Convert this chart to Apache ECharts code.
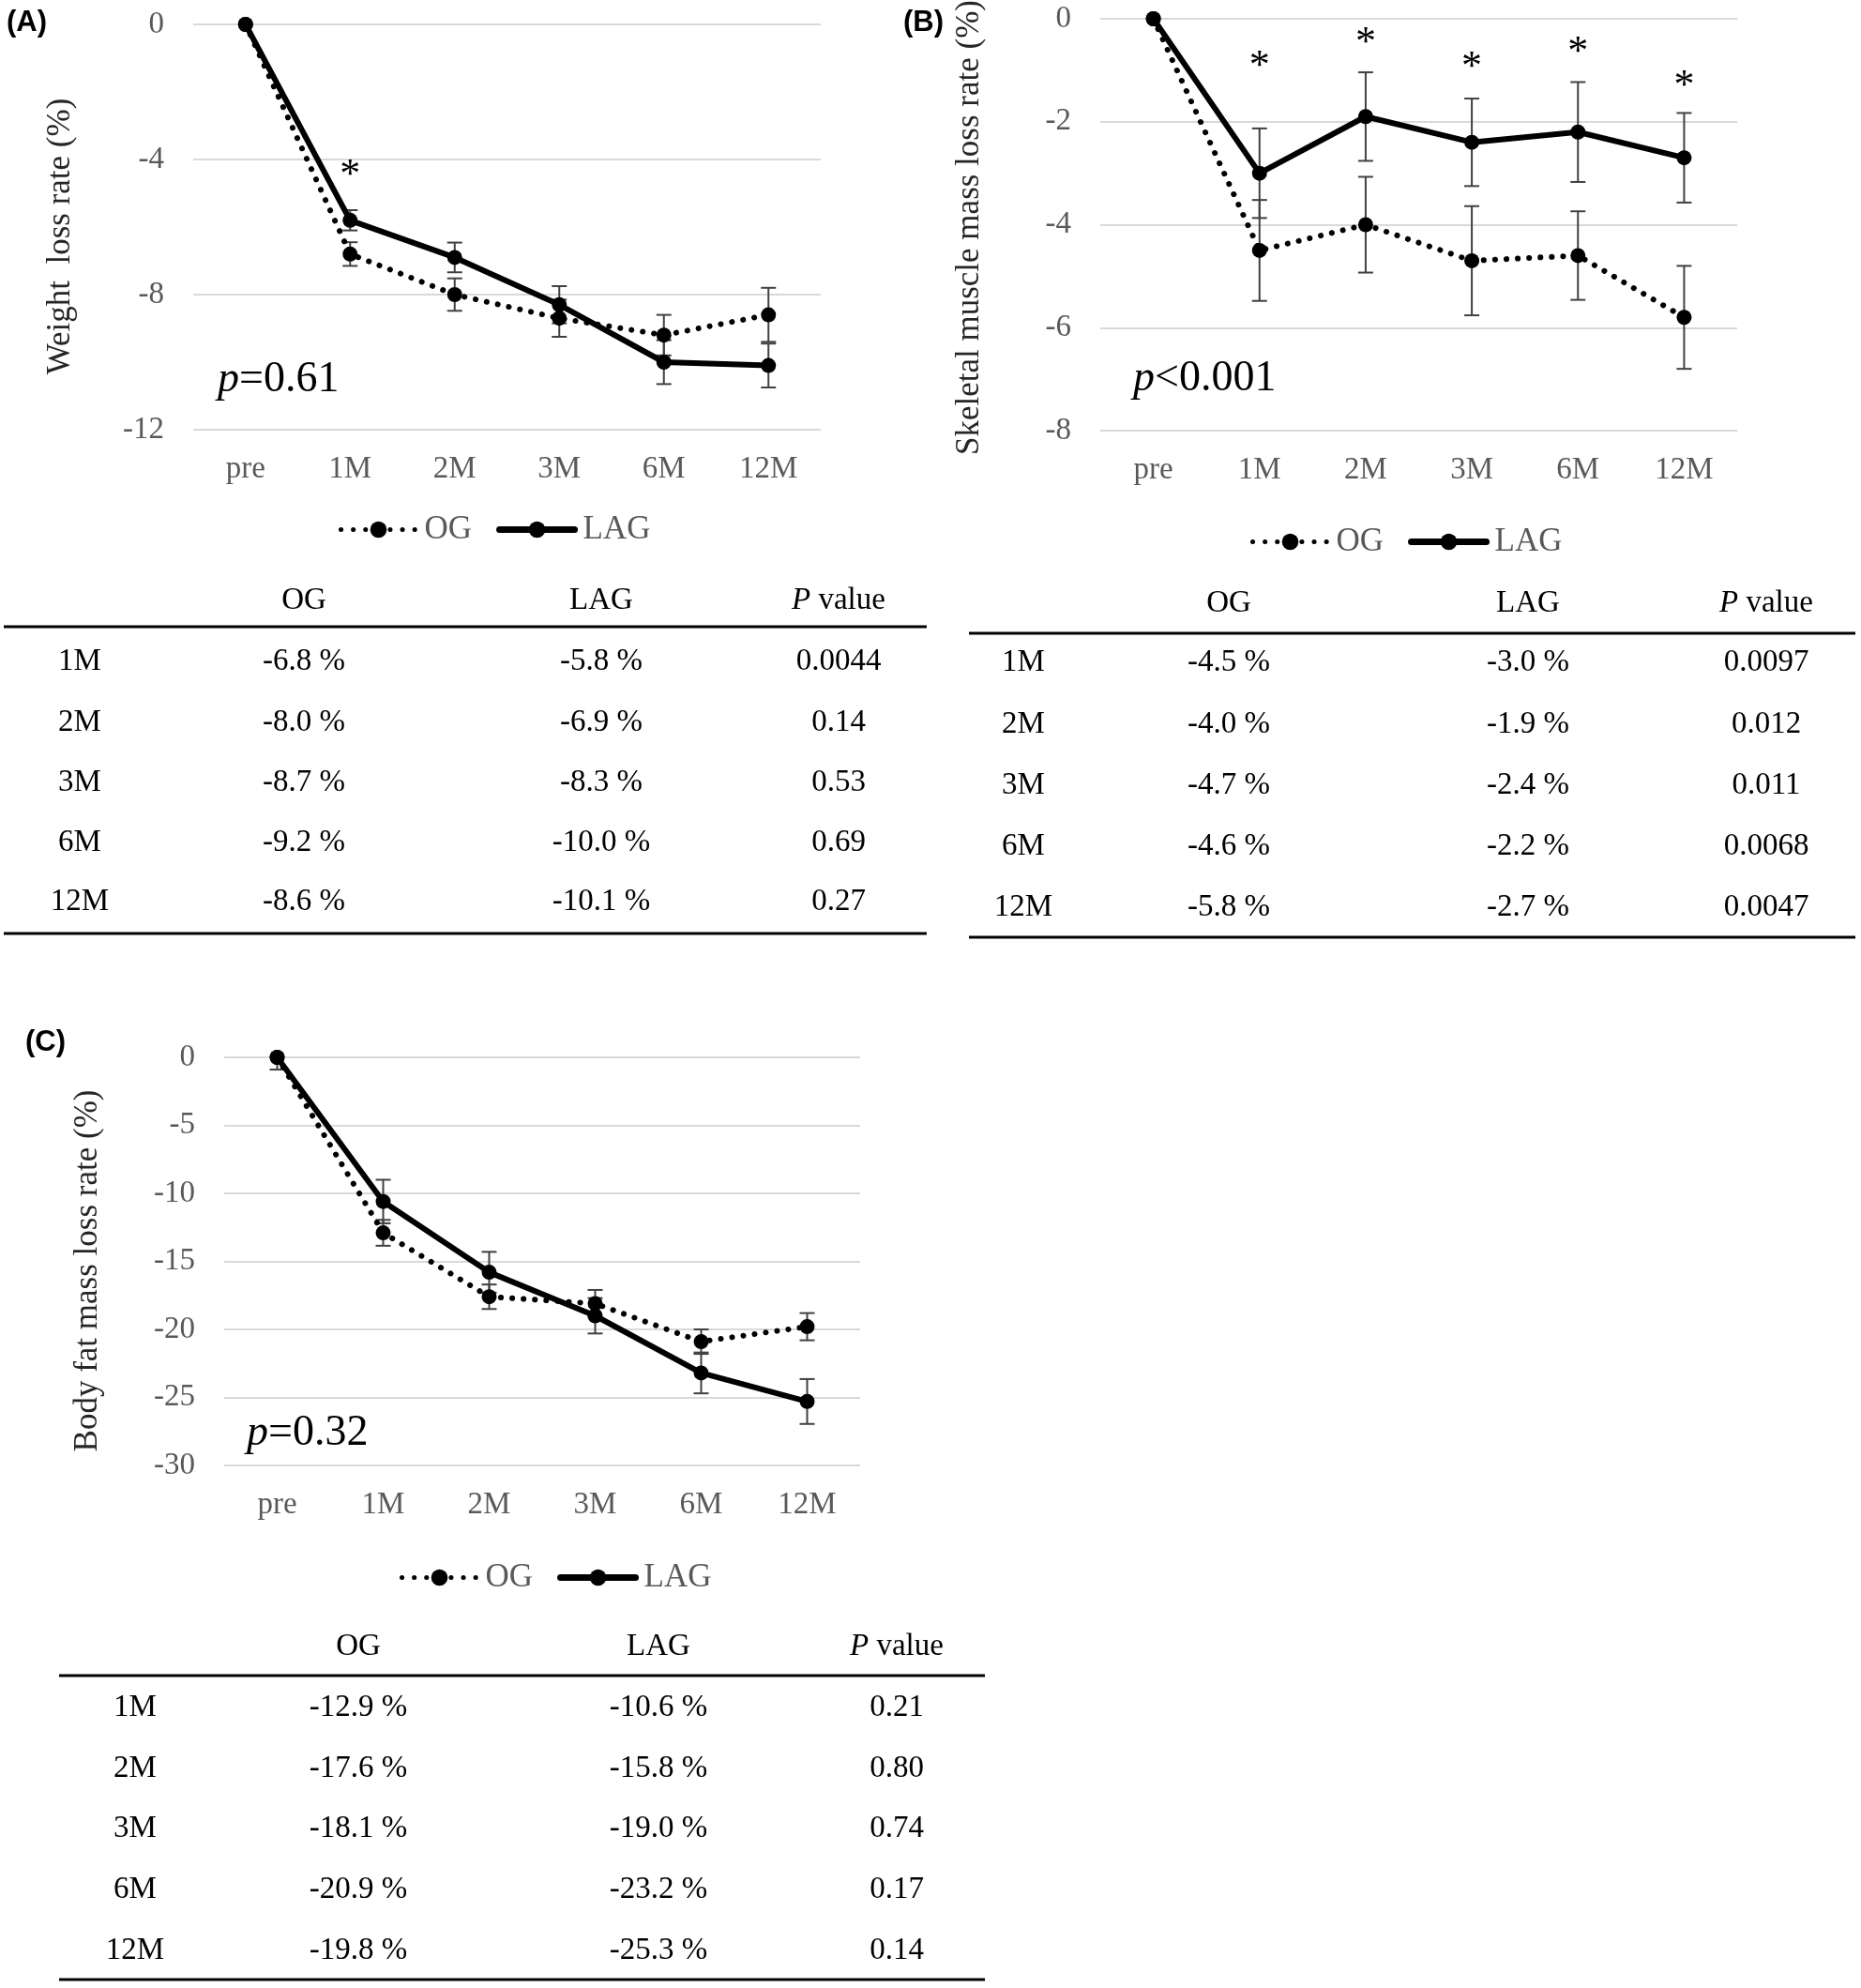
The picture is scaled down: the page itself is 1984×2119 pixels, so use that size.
<!DOCTYPE html>
<html style="height: 100%">
<head>
<meta charset="utf-8">
<script src="https://cdn.jsdelivr.net/npm/echarts@6/dist/echarts.min.js"></script>
</head>
<body style="margin: 0; background: #fff">
<div id="container" style="width: 1984px; height: 2119px"></div>
<script type="text/javascript">
// time points
var cats = ['pre', '1M', '2M', '3M', '6M', '12M'];

// (A) weight loss rate
var ogA = [0, -6.8, -8.0, -8.7, -9.2, -8.6];
var lagA = [0, -5.8, -6.9, -8.3, -10.0, -10.1];
var ogErrA = [0, 0.35, 0.48, 0.55, 0.6, 0.8];
var lagErrA = [0, 0.3, 0.44, 0.55, 0.65, 0.65];
var starA = [null, -4.21, null, null, null, null];
var pValA = ['0.0044', '0.14', '0.53', '0.69', '0.27'];

// (B) skeletal muscle mass loss rate
var ogB = [0, -4.5, -4.0, -4.7, -4.6, -5.8];
var lagB = [0, -3.0, -1.9, -2.4, -2.2, -2.7];
var ogErrB = [0, 0.98, 0.93, 1.06, 0.86, 1.0];
var lagErrB = [0, 0.87, 0.86, 0.85, 0.97, 0.87];
var starB = [null, -0.76, -0.30, -0.78, -0.48, -1.13];
var pValB = ['0.0097', '0.012', '0.011', '0.0068', '0.0047'];

// (C) body fat mass loss rate
var ogC = [0, -12.9, -17.6, -18.1, -20.9, -19.8];
var lagC = [0, -10.6, -15.8, -19.0, -23.2, -25.3];
var ogErrC = [0.9, 0.95, 0.9, 1.0, 0.9, 1.0];
var lagErrC = [0, 1.6, 1.5, 1.3, 1.5, 1.65];
var starC = [null, null, null, null, null, null];
var pValC = ['0.21', '0.80', '0.74', '0.17', '0.14'];

var SERIF = 'Liberation Serif';
var GRAY = '#595959';

var panels = [
    {tag: '(A)', tagX: 7, tagY: 24, yName: 'Weight  loss rate (%)', min: -12, interval: 4,
     grid: {left: 206, top: 26, width: 669, height: 432}, nameGap: 124, nameShift: 20,
     og: ogA, lag: lagA, ogErr: ogErrA, lagErr: lagErrA, star: starA, p: ['=', '0.61'], pX: 232, pY: 405,
     legend: {left: 356, top: 542},
     table: {headY: 640, lineX1: 4, lineX2: 988, topY: 668, botY: 995, rowY: [705, 770, 834, 898, 961],
             cols: [85, 324, 641, 894]}, pv: pValA},
    {tag: '(B)', tagX: 963, tagY: 24, yName: 'Skeletal muscle mass loss rate (%)', min: -8, interval: 2,
     grid: {left: 1173, top: 20, width: 679, height: 439}, nameGap: 122, nameShift: 6,
     og: ogB, lag: lagB, ogErr: ogErrB, lagErr: lagErrB, star: starB, p: ['<', '0.001'], pX: 1208, pY: 404,
     legend: {left: 1328, top: 555},
     table: {headY: 643, lineX1: 1033, lineX2: 1978, topY: 675, botY: 999, rowY: [706, 772, 837, 902, 967],
             cols: [1091, 1310, 1629, 1883]}, pv: pValB},
    {tag: '(C)', tagX: 27, tagY: 1111, yName: 'Body fat mass loss rate (%)', min: -30, interval: 5,
     grid: {left: 239, top: 1127, width: 678, height: 435}, nameGap: 128, nameShift: 20,
     og: ogC, lag: lagC, ogErr: ogErrC, lagErr: lagErrC, star: starC, p: ['=', '0.32'], pX: 263, pY: 1528,
     legend: {left: 421, top: 1659},
     table: {headY: 1755, lineX1: 63, lineX2: 1050, topY: 1786, botY: 2110, rowY: [1820, 1885, 1949, 2014, 2079],
             cols: [144, 382, 702, 956]}, pv: pValC}
];

function errorBars(params, api) {
    var e = api.value(2);
    if (!e) return;
    var x = api.value(0), m = api.value(1);
    var top = api.coord([x, m + e]);
    var bot = api.coord([x, m - e]);
    var w = 8;
    var st = {stroke: '#404040', lineWidth: 2};
    return {
        type: 'group',
        children: [
            {type: 'line', shape: {x1: top[0], y1: top[1], x2: bot[0], y2: bot[1]}, style: st},
            {type: 'line', shape: {x1: top[0] - w, y1: top[1], x2: top[0] + w, y2: top[1]}, style: st},
            {type: 'line', shape: {x1: bot[0] - w, y1: bot[1], x2: bot[0] + w, y2: bot[1]}, style: st}
        ]
    };
}

function stars(params, api) {
    var p = api.coord([api.value(0), api.value(1)]);
    return {
        type: 'text', x: p[0], y: p[1] + 10,
        style: {text: '*', fontSize: 44, fontFamily: SERIF, fill: '#000', align: 'center', verticalAlign: 'middle'}
    };
}

var ogLine = {color: '#000', width: 6, type: [0.1, 12], cap: 'round'};
var lagLine = {color: '#000', width: 6, cap: 'round'};

var grids = [], xAxes = [], yAxes = [], series = [], legends = [], graphics = [];

panels.forEach(function (pn, k) {
    var g = pn.grid;
    grids.push({left: g.left, top: g.top, width: g.width, height: g.height, outerBoundsMode: 'none'});
    xAxes.push({
        type: 'category', gridIndex: k, data: cats, boundaryGap: true,
        axisLine: {show: false}, axisTick: {show: false},
        axisLabel: {color: GRAY, fontSize: 33, fontFamily: SERIF, margin: 26}
    });
    yAxes.push({
        type: 'value', gridIndex: k, min: pn.min, max: 0, interval: pn.interval,
        name: pn.yName, nameLocation: 'middle', nameGap: pn.nameGap,
        nameTextStyle: {color: '#262626', fontSize: 35, fontFamily: SERIF, padding: [0, pn.nameShift, 0, 0]},
        axisLine: {show: false}, axisTick: {show: false},
        axisLabel: {color: GRAY, fontSize: 33, fontFamily: SERIF, margin: 31},
        splitLine: {lineStyle: {color: '#d9d9d9', width: 2}}
    });
    series.push({
        type: 'custom', name: 'errOG' + k, xAxisIndex: k, yAxisIndex: k, renderItem: errorBars, z: 1,
        encode: {x: 0, y: 1}, clip: true,
        data: pn.og.map(function (v, i) { return [i, v, pn.ogErr[i]]; })
    });
    series.push({
        type: 'custom', name: 'errLAG' + k, xAxisIndex: k, yAxisIndex: k, renderItem: errorBars, z: 1,
        encode: {x: 0, y: 1}, clip: true,
        data: pn.lag.map(function (v, i) { return [i, v, pn.lagErr[i]]; })
    });
    series.push({
        type: 'line', name: 'OG', xAxisIndex: k, yAxisIndex: k, data: pn.og, z: 3,
        symbol: 'circle', symbolSize: 16, itemStyle: {color: '#000'},
        lineStyle: ogLine
    });
    series.push({
        type: 'line', name: 'LAG', xAxisIndex: k, yAxisIndex: k, data: pn.lag, z: 4,
        symbol: 'circle', symbolSize: 16, itemStyle: {color: '#000'},
        lineStyle: lagLine
    });
    var sd = [];
    pn.star.forEach(function (v, i) { if (v !== null) sd.push([i, v]); });
    if (sd.length) {
        series.push({
            type: 'custom', name: 'star' + k, xAxisIndex: k, yAxisIndex: k, renderItem: stars, z: 5,
            encode: {x: 0, y: 1}, clip: false, data: sd
        });
    }
    legends.push({
        data: [
            {name: 'OG', lineStyle: {width: 5, type: [0.1, 13], cap: 'round'}},
            {name: 'LAG', lineStyle: {width: 7, cap: 'round'}}
        ],
        left: pn.legend.left, top: pn.legend.top,
        itemWidth: 80, itemHeight: 22, itemGap: 26,
        textStyle: {color: GRAY, fontSize: 35, fontFamily: SERIF, padding: [0, 0, 0, 4]}
    });

    // panel tag
    graphics.push({type: 'text', x: pn.tagX, y: pn.tagY,
        style: {text: pn.tag, fontSize: 31, fontWeight: 'bold', fontFamily: 'Liberation Sans', fill: '#000', verticalAlign: 'middle'}});
    // p value in chart
    graphics.push({type: 'text', x: pn.pX, y: pn.pY,
        style: {text: '{i|p}{n|' + pn.p[0] + pn.p[1] + '}', verticalAlign: 'middle',
            rich: {i: {fontSize: 46, fontFamily: SERIF, fontStyle: 'italic', fill: '#000'},
                   n: {fontSize: 46, fontFamily: SERIF, fill: '#000'}}}});

    // table below the chart
    var t = pn.table;
    var cell = function (txt, x, y) {
        return {type: 'text', x: x, y: y,
            style: {text: txt, fontSize: 33, fontFamily: SERIF, fill: '#000', align: 'center', verticalAlign: 'middle'}};
    };
    graphics.push(cell('OG', t.cols[1], t.headY));
    graphics.push(cell('LAG', t.cols[2], t.headY));
    graphics.push({type: 'text', x: t.cols[3], y: t.headY,
        style: {text: '{i|P} value', align: 'center', verticalAlign: 'middle', fontSize: 33, fontFamily: SERIF, fill: '#000',
            rich: {i: {fontSize: 33, fontFamily: SERIF, fontStyle: 'italic', fill: '#000'}}}});
    graphics.push({type: 'line', shape: {x1: t.lineX1, y1: t.topY, x2: t.lineX2, y2: t.topY}, style: {stroke: '#000', lineWidth: 3}});
    graphics.push({type: 'line', shape: {x1: t.lineX1, y1: t.botY, x2: t.lineX2, y2: t.botY}, style: {stroke: '#000', lineWidth: 3}});
    for (var r = 0; r < 5; r++) {
        var y = t.rowY[r];
        graphics.push(cell(cats[r + 1], t.cols[0], y));
        graphics.push(cell(pn.og[r + 1].toFixed(1) + ' %', t.cols[1], y));
        graphics.push(cell(pn.lag[r + 1].toFixed(1) + ' %', t.cols[2], y));
        graphics.push(cell(pn.pv[r], t.cols[3], y));
    }
});

var myChart = echarts.init(document.getElementById('container'));
myChart.setOption({
    backgroundColor: '#fff',
    animation: false,
    grid: grids,
    xAxis: xAxes,
    yAxis: yAxes,
    legend: legends,
    series: series,
    graphic: graphics
});
</script>
</body>
</html>
